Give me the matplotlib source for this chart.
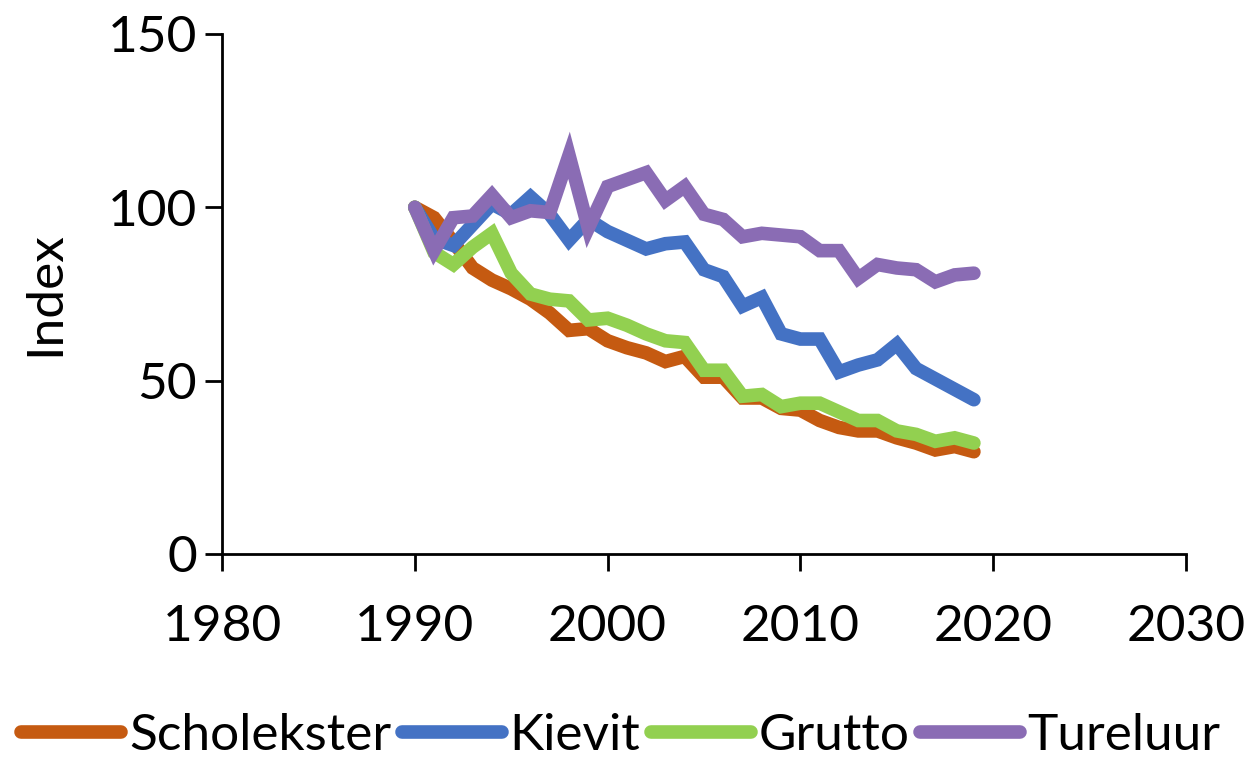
import numpy as np
import matplotlib.pyplot as plt

plt.rcParams['font.family'] = ['Lato', 'DejaVu Sans']

years = list(range(1990, 2020))

scholekster = [100, 97, 90, 82.5, 79, 76.5, 73.5, 69.5, 64.5, 65,
               61.5, 59.5, 58, 55.5, 57, 51, 51, 45, 45, 42,
               41.5, 38.5, 36.5, 35.5, 35.5, 33.5, 32, 30, 31, 29.5]
kievit = [100, 91, 89, 95, 101, 98, 103, 98, 90.5, 96.5,
          93, 90.5, 88, 89.5, 90, 82, 80, 71.5, 74, 63.5,
          62, 62, 52.5, 54.5, 56, 60.5, 53.5, 50.5, 47.5, 44.5]
grutto = [100, 87, 83.5, 88.5, 92.5, 81, 75, 73.5, 73, 67.5,
          68, 66, 63.5, 61.5, 61, 53, 53, 45.5, 46, 42.5,
          43.5, 43.5, 41, 38.5, 38.5, 35.5, 34.5, 32.5, 33.5, 32]
tureluur = [100, 87.5, 97, 97.5, 103.5, 97, 99, 98.5, 115, 94,
            106, 108, 110, 102, 106, 98, 96.5, 91.5, 92.5, 92,
            91.5, 87.5, 87.5, 79.5, 83.5, 82.5, 82, 78.5, 80.5, 81]

names = ['Scholekster', 'Kievit', 'Grutto', 'Tureluur']
colors = ['#C55A11', '#4472C4', '#92D050', '#8A6CB4']

fig = plt.figure(figsize=(12.57, 7.62), dpi=100)
ax = fig.add_axes([0.1766, 0.273, 0.7669, 0.6824])

for data, name, col in zip([scholekster, kievit, grutto, tureluur], names, colors):
    ax.plot(years, data, color=col, lw=9.8, label=name,
            solid_joinstyle='miter', solid_capstyle='round')

ax.set_xlim(1980, 2030)
ax.set_ylim(0, 150)
ax.set_xticks([1980, 1990, 2000, 2010, 2020, 2030])
ax.set_yticks([0, 50, 100, 150])
ax.spines['top'].set_visible(False)
ax.spines['right'].set_visible(False)
for s in ['left', 'bottom']:
    ax.spines[s].set_linewidth(2)
ax.tick_params(axis='both', direction='out', length=12, width=2,
               labelsize=37)
ax.tick_params(axis='x', pad=24)
ax.tick_params(axis='y', pad=6)
ax.set_ylabel('Index', fontsize=37, labelpad=28)

fig.legend(loc='lower center', bbox_to_anchor=(0.494, -0.036), ncol=4,
           frameon=False, fontsize=37, handlelength=1.95,
           handletextpad=0.15, columnspacing=0.2, borderaxespad=0.2)

fig.savefig('out.png', dpi=100)
